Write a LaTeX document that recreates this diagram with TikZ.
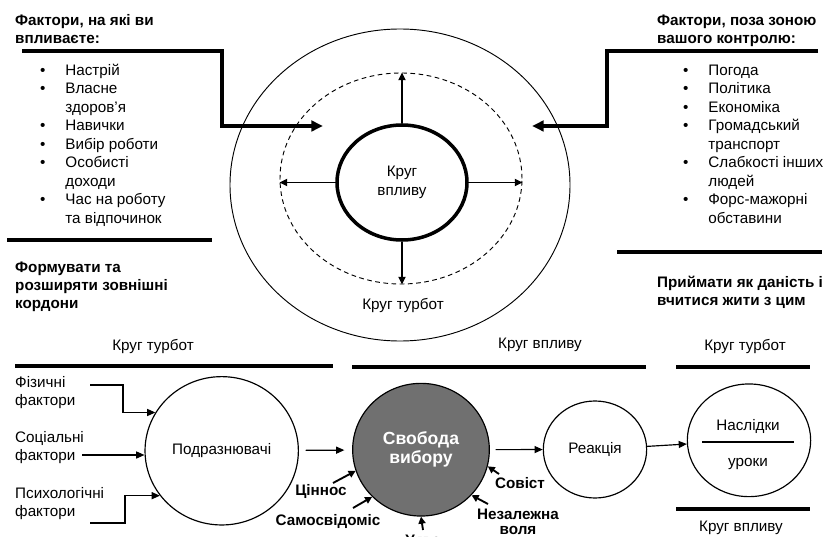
\documentclass[tikz,border=0pt]{standalone}
\usepackage{fontspec}
\setmainfont{Liberation Sans}
\usetikzlibrary{arrows.meta,shapes.geometric}
\definecolor{svobgray}{RGB}{112,112,112}
\newcommand\bul{\makebox[21.5pt][l]{•}}
\newcommand\nob{\hspace*{21.5pt}}
\begin{document}
\begin{tikzpicture}[x=0.03cm,y=-0.03cm,
  heading/.style={font=\bfseries\fontsize{13}{15.4}\selectfont, align=left, inner sep=0pt},
  body/.style={font=\fontsize{13}{15.8}\selectfont, align=left, inner sep=0pt},
  lbl/.style={font=\bfseries\fontsize{13}{12.8}\selectfont, align=center, inner sep=0pt},
  heavy/.style={line width=2.8pt},
  bigarrow/.style={line width=2.8pt, -{Triangle[length=10pt,width=9pt]}},
  carrow/.style={line width=1.6pt, -{Triangle[length=6.5pt,width=6pt]}},
  tarrow/.style={line width=1pt, -{Triangle[length=7pt,width=6pt]}},
  larrow/.style={line width=1.6pt, -{Triangle[length=6pt,width=6pt]}},
  ring/.style={draw, ellipse, inner sep=0pt},
]
\useasboundingbox (0,0) rectangle (828,537);
\clip (0,0) rectangle (828,537);
\fill[white] (0,0) rectangle (828,537);

% ---------- top left ----------
\node[heading, anchor=north west] (lhead) at (15,12.4) {\strut Фактори, на які ви\\впливаєте:};
\node[body, anchor=north west] (llist) at (40,62) {\strut\bul Настрій\\\bul Власне\\\nob здоров’я\\\bul Навички\\\bul Вибір роботи\\\bul Особисті\\\nob доходи\\\bul Час на роботу\\\nob та відпочинок};
\coordinate (la0) at (22,51);
\coordinate (la1) at (323,126);
\draw[bigarrow] (la0) -| (222,126) -- (la1);
\draw[heavy] (7,240) -- (212,240);
\node[heading, anchor=north west] (lfoot) at (15,259.8) {\strut Формувати та\\розширяти зовнішні\\кордони};

% ---------- top right ----------
\node[heading, anchor=north west] (rhead) at (657,12.4) {\strut Фактори, поза зоною\\вашого контролю:};
\node[body, anchor=north west] (rlist) at (683,62) {\strut\bul Погода\\\bul Політика\\\bul Економіка\\\bul Громадський\\\nob транспорт\\\bul Слабкості інших\\\nob людей\\\bul Форс-мажорні\\\nob обставини};
\coordinate (ra0) at (818,51);
\coordinate (ra1) at (532,126);
\draw[bigarrow] (ra0) -| (607,126) -- (ra1);
\draw[heavy] (617,252) -- (822,252);
\node[heading, anchor=north west] (rfoot) at (657,275) {\strut Приймати як даність і\\вчитися жити з цим};

% ---------- centre circles ----------
\node[ring, line width=0.8pt, minimum width=10.2cm, minimum height=9.36cm] (outer) at (400,185) {};
\node[ring, line width=0.8pt, dash pattern=on 4pt off 3pt, minimum width=7.26cm, minimum height=6.33cm] (dash) at (401,178.5) {};
\node[ring, line width=3pt, minimum width=3.9cm, minimum height=3.45cm, body, align=center] (infl) at (402,182.5) {Круг\\впливу};
\draw[carrow] (infl.north) -- (infl.north |- dash.north);
\draw[carrow] (infl.south) -- (infl.south |- dash.south);
\draw[carrow] (infl.west) -- (infl.west -| dash.west);
\draw[carrow] (infl.east) -- (infl.east -| dash.east);
\node[body, anchor=base] (turb) at (403,310) {Круг турбот};

% ---------- bottom bands ----------
\node[body, anchor=base] (tb1) at (153,350) {Круг турбот};
\draw[heavy] (15,366) -- (333,366);
\node[body, anchor=base] (vb1) at (540,348.5) {Круг впливу};
\draw[heavy] (352,367) -- (646,367);
\node[body, anchor=base] (tb2) at (745,350.5) {Круг турбот};
\draw[heavy] (676,367) -- (810,367);
\draw[heavy] (676,509) -- (810,509);
\node[body, anchor=base] (vb2) at (741,531) {Круг впливу};

% ---------- bottom flow ----------
\node[ring, line width=1pt, minimum width=4.6cm, minimum height=4.45cm, body] (podr) at (221.7,450.8) {Подразнювачі};
\node[ring, line width=1pt, fill=svobgray, minimum width=4.1cm, minimum height=3.98cm, text=white, font=\bfseries\fontsize{15}{16.2}\selectfont, align=center] (svob) at (421,449.7) {Свобода\\вибору};
\node[ring, line width=1pt, minimum width=3.1cm, minimum height=2.91cm, body] (reak) at (595,449.5) {Реакція};
\node[ring, line width=1pt, minimum width=3.7cm, minimum height=3.38cm] (nasl) at (749,440.3) {};
\node[body, anchor=base] (naslT) at (748,430) {Наслідки};
\node[body, anchor=base] (urok) at (748,466) {уроки};
\draw[line width=1.2pt] (702,442) -- (794,442);

\draw[tarrow, shorten <=5.6pt, shorten >=6.6pt] (podr) -- (svob);
\draw[tarrow, shorten <=4.9pt] (svob) -- (reak);
\draw[tarrow] (reak) -- (nasl);

% inputs
\node[body, anchor=north west] (fiz) at (15,374.2) {\strut Фізичні\\фактори};
\node[body, anchor=north west] (soc) at (15,429.2) {\strut Соціальні\\фактори};
\node[body, anchor=north west] (psy) at (15,485.2) {\strut Психологічні\\фактори};
\coordinate (fizT) at (90,385);
\coordinate (socT) at (82,455);
\coordinate (psyT) at (90,523);
\draw[tarrow] (fizT) -- ++(33,0) |- (podr.150);
\draw[tarrow] (socT) -- (socT -| podr.west);
\draw[tarrow] (psyT) -- ++(35,0) |- (podr.216);

% influences on freedom of choice
\node[lbl, anchor=base] (cin) at (321,495) {Ціннос};
\node[lbl, anchor=base] (sam) at (328,525) {Самосвідоміс};
\node[lbl, anchor=base] (sov) at (520,488) {Совіст};
\node[lbl, anchor=north] (nez) at (518,508.5) {\strut Незалежна\\воля};
\node[lbl, anchor=base] (uya) at (423,545) {Уява};
\coordinate (cinT) at (333,483);
\coordinate (samT) at (353,508);
\coordinate (uyaT) at (423,530);
\coordinate (sovT) at (499,474);
\coordinate (nezT) at (488,504);
\draw[larrow] (cinT) -- (svob.198);
\draw[larrow] (samT) -- (svob.224);
\draw[larrow] (uyaT) -- (svob.270);
\draw[larrow] (sovT) -- (svob.346);
\draw[larrow] (nezT) -- (svob.318);
\end{tikzpicture}
\end{document}
